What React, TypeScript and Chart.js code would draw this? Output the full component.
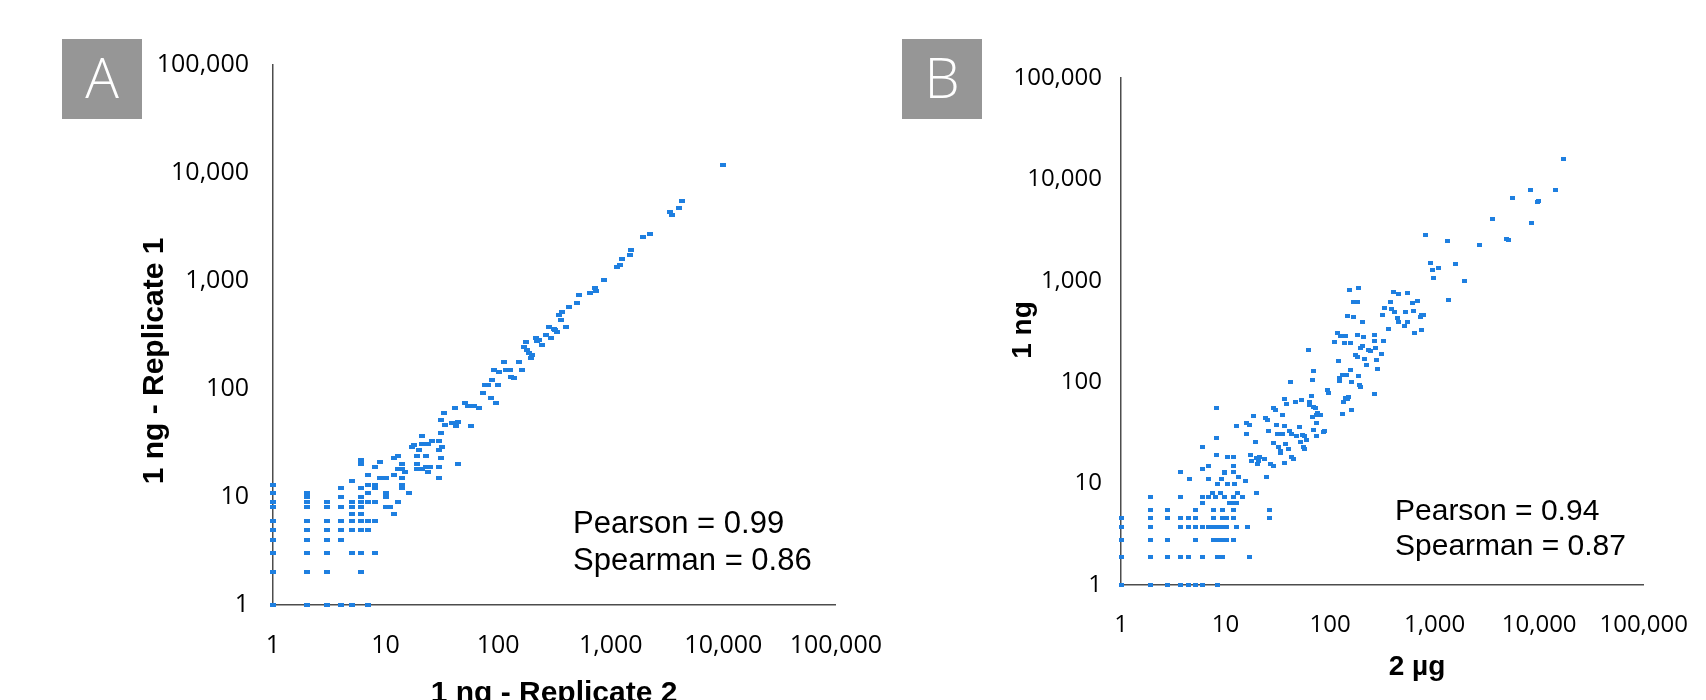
import React, { useEffect, useRef } from 'react';
import { Chart, registerables } from 'chart.js';

Chart.register(...registerables);

// ---------- shared ----------
const tickValues = [1, 10, 100, 1000, 10000, 100000];

// ---------- Panel A : 1 ng replicate 2 (x) vs 1 ng replicate 1 (y) ----------
const panelALowCounts: [number, number][] = [
  [1, 1], [1, 2], [1, 3], [1, 4], [1, 5], [1, 6], [1, 8], [1, 9], [1, 11], [1, 13],
  [2, 1], [2, 2], [2, 3], [2, 4], [2, 5], [2, 6], [2, 8], [2, 9], [2, 10], [2, 11],
  [3, 1], [3, 2], [3, 3], [3, 4], [3, 5], [3, 6], [3, 8], [3, 9],
  [4, 1], [4, 4], [4, 5], [4, 6], [4, 8], [4, 10], [4, 12],
  [5, 1], [5, 3], [5, 5], [5, 6], [5, 7], [5, 8], [5, 9], [5, 14],
  [6, 2], [6, 3], [6, 5], [6, 6], [6, 7], [6, 8], [6, 9], [6, 10], [6, 12], [6, 20], [6, 22],
  [7, 1], [7, 5], [7, 6], [7, 9], [7, 11], [7, 13], [7, 16],
  [8, 3], [8, 6], [8, 9], [8, 12], [8, 13], [8, 19],
];

const panelAMidCounts: [number, number][] = [
  [9, 21], [9, 15], [10, 15], [10, 11], [10, 10], [10, 8], [11, 8], [12, 7], [13, 9], [12, 16],
  [12, 23], [13, 24], [13, 18], [14, 20], [14, 18], [14, 15], [14, 13], [14, 12], [15, 17], [16, 11],
  [17, 29], [18, 30], [19, 18], [19, 24], [19, 20], [20, 27], [21, 37], [21, 31], [21, 18], [23, 24],
  [23, 19], [24, 31], [24, 17], [25, 19], [26, 33], [30, 33], [30, 27], [30, 19], [30, 15], [31, 23],
  [32, 29], [31, 52], [31, 39], [33, 60], [34, 46], [41, 66], [39, 48], [42, 45], [44, 50], [44, 20],
  [51, 74], [54, 69], [57, 45], [61, 69], [68, 66], [74, 91], [76, 109], [81, 109], [86, 82], [89, 121],
  [95, 74], [92, 150], [99, 109], [102, 145], [113, 179], [117, 150], [127, 150], [130, 130], [139, 126],
  [153, 179], [164, 150], [170, 247], [176, 274], [182, 230], [188, 214], [195, 192], [201, 206],
  [215, 295], [223, 280], [231, 285], [244, 256], [268, 316], [283, 378], [292, 295], [313, 357],
  [320, 350], [335, 340], [347, 484], [359, 435], [371, 520], [397, 378], [425, 578], [503, 621], [521, 741],
];

const panelAHighCounts: [number, number][] = [
  [661, 769], [732, 856], [740, 813], [867, 1022], [1137, 1357], [1218, 1407], [1259, 1586],
  [1494, 1741], [1525, 1937], [1920, 2537], [2245, 2706], [3376, 4385], [3488, 4085],
  [4000, 4710], [4337, 5542], [10000, 11860],
];

// ---------- Panel B : 2 µg (x) vs 1 ng (y) ----------
const panelBLowCounts: [number, number][] = [
  [1, 1], [1.9, 1], [2.8, 1], [3.7, 1], [4.4, 1], [5.2, 1], [6, 1], [8.4, 1],
  [1, 1.9], [1.9, 1.9], [2.8, 1.9], [3.7, 1.9], [4.4, 1.9], [6, 1.9], [8.4, 1.9], [9.3, 1.9], [16.9, 1.9],
  [1, 2.8], [1.9, 2.8], [2.8, 2.8], [5.2, 2.8], [7.6, 2.8], [8.4, 2.8], [9.3, 2.8], [10.2, 2.8], [11.8, 2.8],
  [1, 3.7], [1.9, 3.7], [3.7, 3.7], [4.4, 3.7], [5.2, 3.7], [6, 3.7], [6.9, 3.7], [7.6, 3.7], [8.4, 3.7],
  [9.3, 3.7], [10.2, 3.7], [12.6, 3.7], [16.3, 3.7],
  [1, 4.6], [1.9, 4.6], [2.8, 4.6], [3.7, 4.6], [4.4, 4.6], [5.2, 4.6], [7.6, 4.6], [9.3, 4.6], [10.2, 4.6],
  [11.8, 4.6], [26.6, 4.6],
  [1.9, 5.5], [2.8, 5.5], [5.2, 5.5], [7.6, 5.5], [9.3, 5.5], [11.8, 5.5], [26.6, 5.5],
  [6, 6.4], [10.9, 6.4], [11.8, 6.4], [12.6, 6.4],
  [1.9, 7.3], [3.7, 7.3], [6, 7.3], [6.9, 7.3], [8, 7.3], [9.8, 7.3], [11.8, 7.3], [14.6, 7.3],
  [7.5, 8.1], [9, 8.1], [13.1, 8.1], [19.6, 8.1],
];

const panelBMidCounts: [number, number][] = [
  [3.7, 13], [4.5, 11], [6, 23], [6, 14], [6.8, 11], [6.9, 15], [8.2, 56], [8.2, 28], [8.2, 19], [8.4, 10],
  [9.1, 11], [9.8, 13], [9.8, 12.6], [10.5, 18.5], [10.5, 10], [12, 18.5], [12, 15], [12, 13], [12.2, 10],
  [12.6, 37], [13.4, 11.5], [15.5, 10.7], [15.7, 40], [16, 31], [16.9, 38], [17.5, 19], [17.7, 16.6],
  [18.5, 46], [19.5, 26], [19.9, 18], [20.2, 15.6], [20.9, 18.4], [20.5, 16.6], [23.7, 17.5], [24.7, 11.5],
  [24.2, 44], [25.4, 42], [26, 33], [26.9, 15.6], [28.5, 15], [29, 25], [29, 56], [30, 53], [30.7, 38],
  [31.1, 31], [32.3, 23], [33.4, 21], [33.4, 20], [34.7, 48], [35.4, 31], [36.5, 37], [36.5, 15.8],
  [37.3, 24.5], [36.5, 68], [38.6, 61], [40.1, 22], [40.9, 33], [41.5, 100], [43, 31], [43, 18.4],
  [44.6, 17.5], [46.2, 64], [47.2, 29.5], [51.5, 36], [52.3, 26], [53.4, 66], [54.6, 30], [55.4, 23],
  [57.4, 22], [57.4, 29.5], [59.5, 27], [63, 64], [64, 60], [66.3, 73], [67.8, 45], [68.8, 57], [69.7, 34],
  [72.8, 56], [73.9, 40], [73.9, 29.5], [73.9, 48], [76.6, 50], [80.5, 47], [86.6, 32], [88.5, 33],
  [62.6, 209], [67.8, 106], [69.7, 130], [95.1, 83], [97.2, 79], [121, 163], [122, 102], [124, 110],
  [132, 117], [132, 49], [133, 64], [141, 70], [143, 119], [147, 68], [150, 71], [156, 131], [161, 53],
  [161, 100], [157, 243], [118, 305], [127, 283], [141, 283], [182, 293], [188, 115], [191, 93], [196, 89],
  [110, 247], [136, 243], [147, 454], [169, 444], [152, 810], [186, 841], [169, 622], [182, 622],
  [206, 396], [210, 276], [175, 187], [182, 176], [196, 217], [203, 225], [215, 171], [221, 149],
  [234, 209], [243, 201], [267, 293], [267, 252], [270, 217], [280, 167], [284, 136], [267, 76],
  [308, 190], [324, 256], [317, 461], [331, 544], [361, 336], [382, 613], [402, 780], [388, 528],
  [417, 497], [454, 735], [441, 427], [454, 396], [517, 362], [525, 497], [556, 763], [556, 391],
  [632, 504], [619, 600], [642, 309], [690, 632], [731, 444], [752, 461], [785, 461], [741, 328],
  [920, 1500], [955, 1273], [975, 1054],
];

const panelBHighCounts: [number, number][] = [
  [815, 2800], [1340, 2450], [2660, 2240], [4830, 2600], [5120, 2540], [1080, 1340], [1600, 1468],
  [1920, 1000], [1370, 651], [3570, 4080], [8410, 3700], [5580, 6510], [9580, 5950], [9930, 6090],
  [8290, 7860], [14230, 7920], [17060, 16070],
];

// ---------- text ----------
const panelAStats = ['Pearson = 0.99', 'Spearman = 0.86'];
const panelBStats = ['Pearson = 0.94', 'Spearman = 0.87'];
const panelATitles = { x: '1 ng - Replicate 2', y: '1 ng - Replicate 1', letter: 'A' };
const panelBTitles = { x: '2 µg', y: '1 ng', letter: 'B' };

const POINT_COLOR = '#1e7fe0';
const AXIS_COLOR = '#4d4d4d';
const TEXT_COLOR = '#000000';

function makeMarker(w: number, h: number): HTMLCanvasElement {
  const c = document.createElement('canvas');
  c.width = w;
  c.height = h;
  const ctx = c.getContext('2d')!;
  ctx.fillStyle = POINT_COLOR;
  ctx.fillRect(0, 0, w, h);
  return c;
}

type Decor = {
  letter: string;
  boxX: number;
  boxY: number;
  xTitle: string;
  yTitle: string;
  titleSize: number;
  xTitleX: number;
  xTitleBase: number;
  yTitleX: number;
  yTitleY: number;
  stats: string[];
  statSize: number;
  statX: number;
  statBase: number;
  statGap: number;
};

function decorPlugin(d: Decor) {
  return {
    id: 'panelDecor',
    afterDraw(chart: any) {
      const ctx: CanvasRenderingContext2D = chart.ctx;
      ctx.save();
      // letter box
      ctx.fillStyle = '#969696';
      ctx.fillRect(d.boxX, d.boxY, 80, 80);
      ctx.fillStyle = '#ffffff';
      ctx.font = '300 56px "Open Sans"';
      ctx.textAlign = 'center';
      ctx.textBaseline = 'alphabetic';
      ctx.fillText(d.letter, d.boxX + 40, d.boxY + 59);
      // axis titles
      ctx.fillStyle = '#000000';
      ctx.font = `bold ${d.titleSize}px "Liberation Sans"`;
      ctx.textAlign = 'center';
      ctx.fillText(d.xTitle, d.xTitleX, d.xTitleBase);
      ctx.save();
      ctx.translate(d.yTitleX, d.yTitleY);
      ctx.rotate(-Math.PI / 2);
      ctx.textBaseline = 'middle';
      ctx.fillText(d.yTitle, 0, 0);
      ctx.restore();
      // correlation text
      ctx.font = `${d.statSize}px "Liberation Sans"`;
      ctx.textAlign = 'left';
      ctx.textBaseline = 'alphabetic';
      ctx.fillStyle = '#000000';
      d.stats.forEach((s, i) => ctx.fillText(s, d.statX, d.statBase + i * d.statGap));
      ctx.restore();
    },
  };
}

type PanelProps = {
  left: number;
  width: number;
  area: { left: number; top: number; right: number; bottom: number };
  points: [number, number][];
  tickSize: number;
  yTickPad: number;
  xTickPad: number;
  marker: [number, number];
  decor: Decor;
};

function Panel(p: PanelProps) {
  const ref = useRef<HTMLCanvasElement>(null);
  useEffect(() => {
    const H = 700;
    const axisFont = { family: '"Open Sans"', size: p.tickSize };
    const fmt = (v: any) => Number(v).toLocaleString('en-US');
    const setTicks = (axis: any) => {
      axis.ticks = tickValues.map((value) => ({ value }));
    };
    const chart = new Chart(ref.current!, {
      type: 'scatter',
      data: {
        datasets: [
          {
            data: p.points.map(([x, y]) => ({ x, y })),
            pointStyle: makeMarker(p.marker[0], p.marker[1]) as any,
            pointRadius: 3,
            backgroundColor: POINT_COLOR,
            borderColor: POINT_COLOR,
            clip: false as any,
          },
        ],
      },
      options: {
        animation: false,
        responsive: false,
        maintainAspectRatio: false,
        devicePixelRatio: 1,
        events: [],
        layout: {
          autoPadding: false,
          padding: { left: 0, top: p.area.top, right: p.width - p.area.right, bottom: 0 },
        },
        plugins: { legend: { display: false }, tooltip: { enabled: false }, title: { display: false } },
        scales: {
          x: {
            type: 'logarithmic',
            position: 'bottom',
            min: 1,
            max: 100000,
            grid: { display: false },
            border: { display: true, color: AXIS_COLOR, width: 1.5 },
            ticks: {
              callback: fmt,
              font: axisFont,
              color: TEXT_COLOR,
              padding: p.xTickPad,
              maxRotation: 0,
              autoSkip: false,
            },
            afterBuildTicks: setTicks,
            afterFit: (s: any) => {
              s.height = H - p.area.bottom;
            },
          },
          y: {
            type: 'logarithmic',
            position: 'left',
            min: 1,
            max: 100000,
            grid: { display: false },
            border: { display: true, color: AXIS_COLOR, width: 1.5 },
            ticks: {
              callback: fmt,
              font: axisFont,
              color: TEXT_COLOR,
              padding: p.yTickPad,
              autoSkip: false,
            },
            afterBuildTicks: setTicks,
            afterFit: (s: any) => {
              s.width = p.area.left;
            },
          },
        },
      } as any,
      plugins: [decorPlugin(p.decor)],
    });
    return () => chart.destroy();
  }, []);
  return (
    <canvas
      ref={ref}
      width={p.width}
      height={700}
      style={{ position: 'absolute', left: p.left, top: 0, width: p.width, height: 700, display: 'block' }}
    />
  );
}

export default function App() {
  const aPoints = [...panelALowCounts, ...panelAMidCounts, ...panelAHighCounts];
  const bPoints = [...panelBLowCounts, ...panelBMidCounts, ...panelBHighCounts];
  const bLeft = 880;
  return (
    <div style={{ position: 'absolute', left: 0, top: 0, width: 1706, height: 700, background: '#ffffff', overflow: 'hidden' }}>
      <Panel
        left={0}
        width={900}
        area={{ left: 273, top: 65, right: 838, bottom: 605 }}
        points={aPoints}
        tickSize={25}
        yTickPad={16}
        xTickPad={18}
        marker={[6, 4]}
        decor={{
          letter: panelATitles.letter,
          boxX: 62,
          boxY: 39,
          xTitle: panelATitles.x,
          yTitle: panelATitles.y,
          titleSize: 30,
          xTitleX: 554,
          xTitleBase: 702,
          yTitleX: 155,
          yTitleY: 361,
          stats: panelAStats,
          statSize: 31,
          statX: 573,
          statBase: 533,
          statGap: 37,
        }}
      />
      <Panel
        left={bLeft}
        width={1706 - bLeft}
        area={{ left: 1121 - bLeft, top: 78, right: 1654 - bLeft, bottom: 585 }}
        points={bPoints}
        tickSize={24}
        yTickPad={11}
        xTickPad={18}
        marker={[5, 4]}
        decor={{
          letter: panelBTitles.letter,
          boxX: 902 - bLeft,
          boxY: 39,
          xTitle: panelBTitles.x,
          yTitle: panelBTitles.y,
          titleSize: 28,
          xTitleX: 1417 - bLeft,
          xTitleBase: 675,
          yTitleX: 1023 - bLeft,
          yTitleY: 330,
          stats: panelBStats,
          statSize: 30,
          statX: 1395 - bLeft,
          statBase: 520,
          statGap: 35,
        }}
      />
    </div>
  );
}
